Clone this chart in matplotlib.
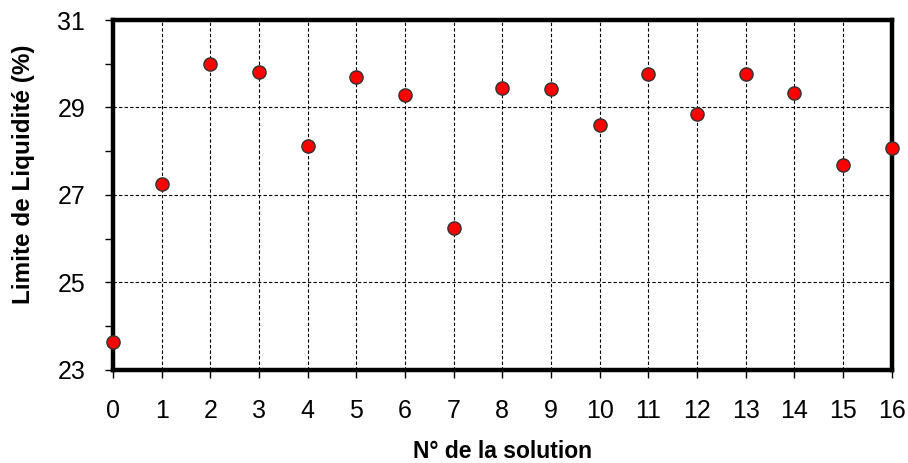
import numpy as np
import matplotlib.pyplot as plt
from matplotlib.ticker import MultipleLocator

# solution number vs liquid limit
solutions = list(range(17))
limite = [23.65, 27.24, 30.0, 29.81, 28.13, 29.70, 29.29, 26.25, 29.44,
          29.42, 28.60, 29.77, 28.85, 29.77, 29.32, 27.69, 28.07]
yticks = [23, 25, 27, 29, 31]

plt.rcParams['font.family'] = ['Liberation Sans', 'DejaVu Sans']

fig = plt.figure(figsize=(9.08, 4.63), dpi=100)
ax = fig.add_axes([0.1244, 0.2009, 0.8576, 0.7559])

ax.plot(solutions, limite, 'o', color='#ff0000', markeredgecolor='#333333',
        markeredgewidth=1.0, markersize=9.5, clip_on=False, zorder=5)

ax.set_xlim(0, 16)
ax.set_ylim(23, 31)
ax.set_xticks(solutions)
ax.set_yticks(yticks)
ax.yaxis.set_minor_locator(MultipleLocator(1))

ax.grid(True, which='major', color='black', linestyle=(0, (3, 2)), linewidth=0.8)
ax.set_axisbelow(True)

for s in ax.spines.values():
    s.set_linewidth(3.2)

ax.tick_params(axis='both', which='major', direction='out', length=6, width=1,
               labelsize=18)
ax.tick_params(axis='y', which='minor', direction='out', length=6, width=1)
ax.tick_params(axis='x', pad=15)
ax.tick_params(axis='y', pad=14)

ax.set_xlabel('N° de la solution', fontsize=16.5, fontweight='bold', labelpad=12)
ax.set_ylabel('Limite de Liquidité (%)', fontsize=17.5, fontweight='bold')
ax.yaxis.set_label_coords(-0.1, 0.56)

fig.savefig('out.png', dpi=100)
